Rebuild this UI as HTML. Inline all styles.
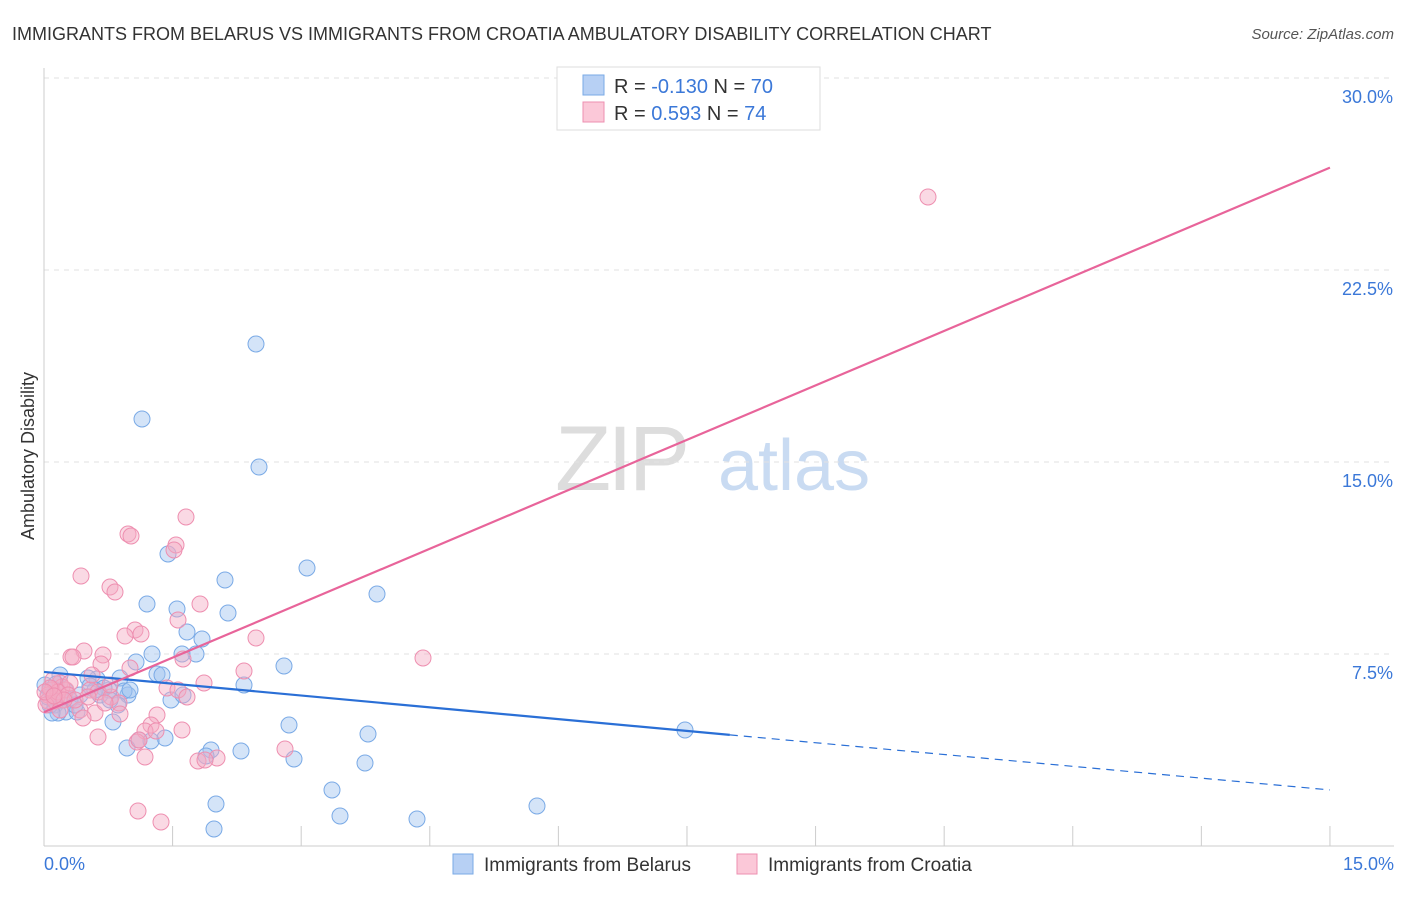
<!DOCTYPE html>
<html><head><meta charset="utf-8"><style>
body{margin:0;background:#fff;font-family:"Liberation Sans",sans-serif;}
svg text{font-family:"Liberation Sans",sans-serif;}
</style></head><body>
<svg id="chart" width="1406" height="892" xmlns="http://www.w3.org/2000/svg">
<text x="12" y="40" font-size="18" fill="#333">IMMIGRANTS FROM BELARUS VS IMMIGRANTS FROM CROATIA AMBULATORY DISABILITY CORRELATION CHART</text>
<text x="1394" y="39" font-size="15" fill="#555" text-anchor="end" font-style="italic">Source: ZipAtlas.com</text>
<g>
<text x="555" y="490" font-size="92" fill="#ddd" font-family="Liberation Serif" letter-spacing="-4">ZIP</text>
<text x="718" y="490" font-size="72" fill="#c9dbf2">atlas</text>
</g>
<g id="grid"></g>
<line x1="44" y1="68" x2="44" y2="846" stroke="#ccc"/>
<line x1="44" y1="846" x2="1394" y2="846" stroke="#ccc"/>
<text transform="translate(34,456) rotate(-90)" font-size="18" fill="#333" text-anchor="middle">Ambulatory Disability</text>
<text x="44" y="870" font-size="18" fill="#3b78d8">0.0%</text>
<text x="1394" y="870" font-size="18" fill="#3b78d8" text-anchor="end">15.0%</text>
<g id="points"></g>
<g id="lines"></g>
<g>
<rect x="557" y="67" width="263" height="63" fill="#fff" stroke="#ddd"/>
<rect x="583" y="75" width="21" height="20" fill="#b7d0f4" stroke="#7aaae6"/>
<rect x="583" y="102" width="21" height="20" fill="#fbc8d8" stroke="#ee8fb0"/>
<text x="614" y="93" font-size="20" fill="#333">R = <tspan fill="#3b78d8">-0.130</tspan>   N = <tspan fill="#3b78d8">70</tspan></text>
<text x="614" y="120" font-size="20" fill="#333">R =  <tspan fill="#3b78d8">  0.593</tspan>   N = <tspan fill="#3b78d8"> 74</tspan></text>
</g>
<g>
<rect x="453" y="854" width="20" height="20" fill="#b7d0f4" stroke="#7aaae6"/>
<text x="484" y="871" font-size="19" fill="#333">Immigrants from Belarus</text>
<rect x="737" y="854" width="20" height="20" fill="#fbc8d8" stroke="#ee8fb0"/>
<text x="768" y="871" font-size="19" fill="#333">Immigrants from Croatia</text>
</g>
</svg>
<script>
const yTicks=[7.5,15,22.5,30];
const yTickLabels=["7.5%","15.0%","22.5%","30.0%"];
const xTicks=[1.5,3,4.5,6,7.5,9,10.5,12,13.5,15];
const blueLine=[6.8,2.19];
const pinkLine=[5.23,26.5];
const bluePx=[[256,344],[142,419],[259,467],[168,554],[307,568],[225,580],[377,594],[147,604],[177,609],[228,613],[187,632],[202,639],[196,654],[152,654],[182,654],[136,662],[284,666],[244,685],[157,674],[162,675],[120,678],[97,679],[60,675],[88,678],[109,690],[104,688],[128,695],[124,691],[171,700],[183,695],[80,695],[70,700],[50,690],[55,705],[66,712],[77,712],[58,713],[113,722],[289,725],[685,730],[368,734],[165,738],[139,740],[151,741],[127,748],[211,750],[241,751],[206,756],[294,759],[365,763],[332,790],[537,806],[216,804],[340,816],[417,819],[214,829],[50,705],[45,685],[95,690],[118,705],[52,713],[62,700],[90,686],[100,695],[75,705],[48,697],[56,684],[110,700],[130,690],[65,690]];
const pinkPx=[[928,197],[186,517],[128,534],[131,536],[176,545],[174,550],[81,576],[110,587],[115,592],[200,604],[178,620],[135,630],[141,634],[125,636],[256,638],[84,651],[71,657],[73,657],[103,655],[101,664],[183,659],[423,658],[130,668],[244,671],[204,683],[167,688],[178,690],[187,697],[60,683],[66,690],[52,690],[48,695],[57,697],[90,690],[98,692],[111,697],[119,703],[48,701],[55,701],[62,687],[80,710],[95,713],[120,714],[83,718],[157,715],[151,725],[182,730],[145,731],[156,731],[98,737],[137,742],[139,740],[285,749],[145,757],[198,761],[217,758],[205,760],[138,811],[161,822],[53,680],[70,683],[46,705],[58,692],[68,695],[50,688],[75,700],[88,697],[105,703],[64,700],[45,692],[110,685],[92,675],[60,710],[54,696]];
const blueX=bluePx.map(p=>(p[0]-44)/85.73), blueY=bluePx.map(p=>(846-p[1])/25.6);
const pinkX=pinkPx.map(p=>(p[0]-44)/85.73), pinkY=pinkPx.map(p=>(846-p[1])/25.6);
const NS="http://www.w3.org/2000/svg";
const sx=v=>44+v*85.73, sy=v=>846-v*25.6;
const grid=document.getElementById('grid');
yTicks.forEach((t,i)=>{
 const l=document.createElementNS(NS,'line');
 
 
 l.setAttribute('x1',44);l.setAttribute('x2',1394);l.setAttribute('y1',sy(t));l.setAttribute('y2',sy(t));
 l.setAttribute('stroke','#e2e2e2');l.setAttribute('stroke-dasharray','5,5');grid.appendChild(l);
 const tx=document.createElementNS(NS,'text');
 
 
 tx.setAttribute('x',1393);tx.setAttribute('y',sy(t)+25);tx.setAttribute('text-anchor','end');
 tx.setAttribute('font-size','18');tx.setAttribute('fill','#3b78d8');tx.textContent=yTickLabels[i];grid.appendChild(tx);
});
xTicks.forEach(t=>{
 const l=document.createElementNS(NS,'line');
 
 
 l.setAttribute('x1',sx(t));l.setAttribute('x2',sx(t));l.setAttribute('y1',826);l.setAttribute('y2',846);
 l.setAttribute('stroke','#ccc');grid.appendChild(l);
});
const pts=document.getElementById('points');
function dots(xs,ys,fill,stroke,name){xs.forEach((x,i)=>{
 const c=document.createElementNS(NS,'circle');
 
 
 c.setAttribute('cx',sx(x));c.setAttribute('cy',sy(ys[i]));c.setAttribute('r',8);
 c.setAttribute('fill',fill);c.setAttribute('stroke',stroke);c.setAttribute('stroke-width','1');pts.appendChild(c);});}
dots(blueX,blueY,'rgba(160,196,240,0.45)','#7aaae6','belarus-point');
dots(pinkX,pinkY,'rgba(245,170,195,0.45)','#ee8fb0','croatia-point');
const lines=document.getElementById('lines');
function ln(x1,y1,x2,y2,col,name,dash){const l=document.createElementNS(NS,'line');
 
 
 l.setAttribute('x1',sx(x1));l.setAttribute('y1',sy(y1));l.setAttribute('x2',sx(x2));l.setAttribute('y2',sy(y2));
 l.setAttribute('stroke',col);l.setAttribute('stroke-width',dash?1.2:2.2);if(dash)l.setAttribute('stroke-dasharray','8,6');lines.appendChild(l);}
const bAt=x=>blueLine[0]+(blueLine[1]-blueLine[0])*x/15;
ln(0,bAt(0),8,bAt(8),'#2a6fd6','belarus-trend-line',false);
ln(8,bAt(8),15,bAt(15),'#2a6fd6','belarus-trend-extension',true);
ln(0,pinkLine[0],15,pinkLine[1],'#e8649a','croatia-trend-line',false);
</script>
</body></html>
